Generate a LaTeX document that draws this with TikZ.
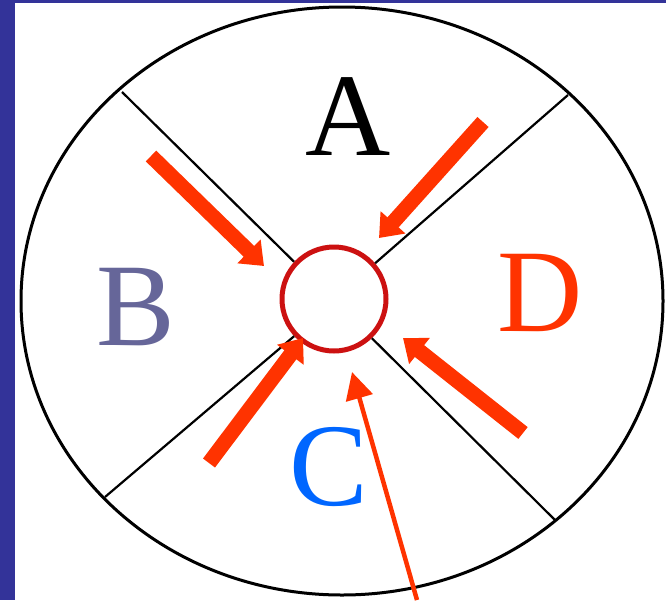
\documentclass[tikz,border=0pt]{standalone}
\usepackage{fontspec}
\setmainfont{Liberation Serif}
\usetikzlibrary{arrows.meta}
\definecolor{frameblue}{RGB}{51,51,153}
\definecolor{hubred}{RGB}{204,17,17}
\definecolor{arrowred}{RGB}{255,51,0}
\definecolor{labB}{RGB}{102,102,153}
\definecolor{labC}{RGB}{0,102,255}
\begin{document}
\begin{tikzpicture}[x=1pt,y=-1pt,
    lab/.style={anchor=base,inner sep=0pt,font=\fontsize{118}{118}\selectfont},
    divider/.style={line width=2.2pt},
    push/.style={draw=arrowred,line width=15pt,-{Triangle[length=21pt,width=32pt]}},
    probe/.style={draw=arrowred,line width=4.5pt,-{Triangle[length=27pt,width=27pt]}}]
    \useasboundingbox (0,0) rectangle (666,600);
    \fill[frameblue] (0,0) rectangle (15,600); %左の帯
    \fill[frameblue] (0,0) rectangle (666,3); %上の帯
    \draw[line width=3pt] (342,301) ellipse [x radius=321,y radius=294]; %外側
    \node[circle,draw=hubred,line width=5pt,minimum size=104pt,inner sep=0pt] (hub) at (334,299) {}; %中心
    \coordinate (ul) at (122,92);
    \coordinate (ur) at (568,95);
    \coordinate (ll) at (105,497);
    \coordinate (lr) at (555,520);
    \draw[divider] (ul)--(hub.137);
    \draw[divider] (ur)--(hub.41);
    \draw[divider] (ll)--(hub.223);
    \draw[divider] (lr)--(hub.314);
    \node[lab] (la) at (348,155) {A};
    \node[lab,text=labB] (lb) at (136,345) {B};
    \node[lab,text=labC] (lc) at (329,505) {C};
    \node[lab,text=arrowred] (ld) at (540,331) {D};
    \coordinate (t1) at (151,156); \coordinate (h1) at (264,266);
    \coordinate (t2) at (483,122); \coordinate (h2) at (379,238);
    \coordinate (t3) at (209,463); \coordinate (h3) at (303,338);
    \coordinate (t4) at (523,433); \coordinate (h4) at (403,338);
    \draw[push] (t1)--(h1);
    \draw[push] (t2)--(h2);
    \draw[push] (t3)--(h3);
    \draw[push] (t4)--(h4);
    \coordinate (t5) at (417,600); \coordinate (h5) at (352,372);
    \draw[probe] (t5)--(h5);
\end{tikzpicture}
\end{document}
